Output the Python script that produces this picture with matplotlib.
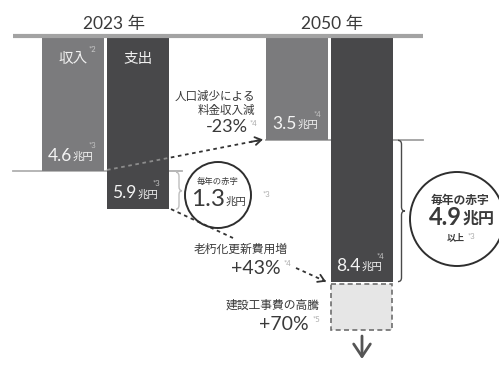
import matplotlib.pyplot as plt
from matplotlib.patches import Ellipse, PathPatch
from matplotlib.path import Path

plt.rcParams['font.family'] = ['Lato', 'Noto Sans CJK JP']

# 水道事業の収支 (兆円)
years = ['2023', '2050']
revenue = [4.6, 3.5]
expense = [5.9, 8.4]
extra_cost = 1.6          # 建設工事費の高騰分 (上乗せ)
rev_notes = ['*3', '*4']
exp_notes = ['*3', '*4']
rev_change = '-23%'
renew_change = '+43%'
build_change = '+70%'
deficit = [round(e - r, 1) for r, e in zip(revenue, expense)]

REV_C = '#7b7b7d'
EXP_C = '#48484a'
TXT = '#3a3a3a'
NOTE = '#aaaaaa'

TOP = 38.0   # px of zero line
PX = 29.0    # px per 1兆円


def Y(py):
    return (py - TOP) / PX


fig = plt.figure(figsize=(4.99, 3.65), dpi=100)
ax = fig.add_axes([0, 0, 1, 1])
ax.set_xlim(0, 499)
ax.set_ylim(Y(365), Y(0))
ax.axis('off')

rev_x = [73, 297.5]
exp_x = [138, 362]
bw = 62

# reference lines
ax.plot([13, 423], [Y(36), Y(36)], color='#a3a3a3', lw=3, zorder=4, solid_capstyle='butt')
ax.plot([13, 182], [revenue[0]] * 2, color='#b0b0b0', lw=1.3, zorder=1)
ax.plot([266, 423], [revenue[1]] * 2, color='#a0a0a0', lw=1.3, zorder=1)

rev_bars = ax.bar(rev_x, revenue, width=bw, bottom=0, color=REV_C, zorder=2)
exp_bars = ax.bar(exp_x, expense, width=bw, bottom=0, color=EXP_C, zorder=2)

# 建設工事費の高騰 (dashed extension)
ax.bar(exp_x[1], extra_cost, width=bw - 1, bottom=expense[1] + 0.07,
       color='#e6e6e6', edgecolor='#6e6e6e', linestyle=(0, (3, 2)), lw=1.2, zorder=2)

# year headings
ax.text(114, Y(24), years[0] + ' 年', ha='center', va='center', fontsize=12.5, color=TXT)
ax.text(332, Y(24), years[1] + ' 年', ha='center', va='center', fontsize=12.5, color=TXT)

# bar titles
ax.text(73, Y(59), '収入', ha='center', va='center', fontsize=10.5, color='#f0f0f0', zorder=5)
ax.text(89, Y(49), '*2', ha='left', va='center', fontsize=5.5, color='#c8c8c8', zorder=5)
ax.text(138, Y(59), '支出', ha='center', va='center', fontsize=10.5, color='#f0f0f0', zorder=5)


def value_label(x, v, note, color='#f4f4f4', note_color='#c4c4c4'):
    t = ax.annotate(f'{v:.1f}', xy=(x, v), xytext=(0, 5.5), textcoords='offset points',
                    ha='left', va='bottom', fontsize=12.5, color=color, zorder=5)
    u = ax.annotate('兆円', xy=(1, 0), xycoords=t, xytext=(0.5, 1.5), textcoords='offset points',
                    ha='left', va='bottom', fontsize=7.5, color=color, zorder=5)
    ax.annotate(note, xy=(1, 1), xycoords=u, xytext=(2, 1.5), textcoords='offset points',
                ha='right', va='bottom', fontsize=5.5, color=note_color, zorder=5)


for i in range(2):
    value_label(rev_x[i] - bw / 2 + 6, revenue[i], rev_notes[i])
    value_label(exp_x[i] - bw / 2 + 5, expense[i], exp_notes[i])


def dashed_arrow(p0, p1, head=True, clip=None):
    ax.plot([p0[0], p1[0]], [p0[1], p1[1]], color='#333333', lw=1.3,
            linestyle=(0, (2, 2)), zorder=1)
    if clip is not None:
        ln, = ax.plot([p0[0], p1[0]], [p0[1], p1[1]], color='#8c8c8c', lw=1.3,
                      linestyle=(0, (2, 2)), zorder=3)
        ln.set_clip_path(clip)
    if head:
        q = (p1[0] - 0.08 * (p1[0] - p0[0]), p1[1] - 0.08 * (p1[1] - p0[1]))
        ax.annotate('', xy=p1, xytext=q,
                    arrowprops=dict(arrowstyle='->,head_length=0.45,head_width=0.28',
                                    color='#333333', lw=1.3, shrinkA=0, shrinkB=0))


dashed_arrow((107, revenue[0] - 0.05), (263, revenue[1]), clip=exp_bars[0])
dashed_arrow((171, expense[0]), (233, Y(238)), head=False)
dashed_arrow((296, Y(268)), (326, expense[1]))


def brace(x, v0, v1, w, color, lw=1.0):
    q = 4.0 / PX
    xm = x + w / 2
    vm = (v0 + v1) / 2
    verts = [(x, v0), (xm, v0), (xm, v0 + q), (xm, vm - q), (xm, vm), (x + w, vm),
             (xm, vm), (xm, vm + q), (xm, v1 - q), (xm, v1), (x, v1)]
    codes = [Path.MOVETO, Path.CURVE3, Path.CURVE3, Path.LINETO, Path.CURVE3, Path.CURVE3,
             Path.CURVE3, Path.CURVE3, Path.LINETO, Path.CURVE3, Path.CURVE3]
    ax.add_patch(PathPatch(Path(verts, codes), fill=False, edgecolor=color, lw=lw, zorder=3))


brace(176, revenue[0] + 0.03, expense[0], 6, '#bdbdbd')
brace(398, revenue[1] + 0.03, expense[1], 7, '#4a4a4a')

# annotations
ax.text(255, Y(96), '人口減少による', ha='right', va='center', fontsize=8.3, color=TXT)
ax.text(255, Y(110), '料金収入減', ha='right', va='center', fontsize=8.3, color=TXT)
ax.text(248, Y(127), rev_change, ha='right', va='center', fontsize=13, color=TXT)
ax.text(250, Y(123), '*4', ha='left', va='center', fontsize=5.5, color=NOTE)

ax.text(288, Y(249), '老朽化更新費用増', ha='right', va='center', fontsize=8.5, color=TXT)
ax.text(281, Y(268), renew_change, ha='right', va='center', fontsize=14, color=TXT)
ax.text(284, Y(263), '*4', ha='left', va='center', fontsize=5.5, color=NOTE)

ax.text(320, Y(305), '建設工事費の高騰', ha='right', va='center', fontsize=8.5, color=TXT)
ax.text(309, Y(325), build_change, ha='right', va='center', fontsize=14, color=TXT)
ax.text(313, Y(320), '*5', ha='left', va='center', fontsize=5.5, color=NOTE)

# deficit circles
ax.add_patch(Ellipse((218, Y(195)), 66, 66 / PX, fill=False, edgecolor='#2e2e2e', lw=1.4, zorder=3))
ax.text(218, Y(181), '毎年の赤字', ha='center', va='center', fontsize=6, color=TXT)
ax.text(225, Y(199), f'{deficit[0]:.1f}', ha='right', va='center', fontsize=17.5, color=TXT)
ax.text(226, Y(202), '兆円', ha='left', va='center', fontsize=7.5, color=TXT)
ax.text(263, Y(195), '*3', ha='left', va='center', fontsize=5.5, color=NOTE)

ax.add_patch(Ellipse((457, Y(219)), 94, 94 / PX, fill=False, edgecolor='#2e2e2e', lw=1.4, zorder=3))
ax.text(460, Y(200), '毎年の赤字', ha='center', va='center', fontsize=8.5,
        color=TXT, fontweight='bold')
ax.text(462, Y(218), f'{deficit[1]:.1f}', ha='right', va='center', fontsize=17,
        color=TXT, fontweight='bold')
ax.text(463, Y(219), '兆円', ha='left', va='center', fontsize=11.5, color=TXT, fontweight='bold')
ax.text(456, Y(238), '以上', ha='center', va='center', fontsize=6.5, color=TXT, fontweight='bold')
ax.text(468, Y(237), '*3', ha='left', va='center', fontsize=5.5, color=NOTE)

# down arrow below the 2050 expense
ax.annotate('', xy=(362, Y(359)), xytext=(362, Y(336)),
            arrowprops=dict(arrowstyle='->,head_length=0.9,head_width=0.6',
                            color='#555555', lw=2, shrinkA=0, shrinkB=0))

fig.savefig('out.png', dpi=100)
